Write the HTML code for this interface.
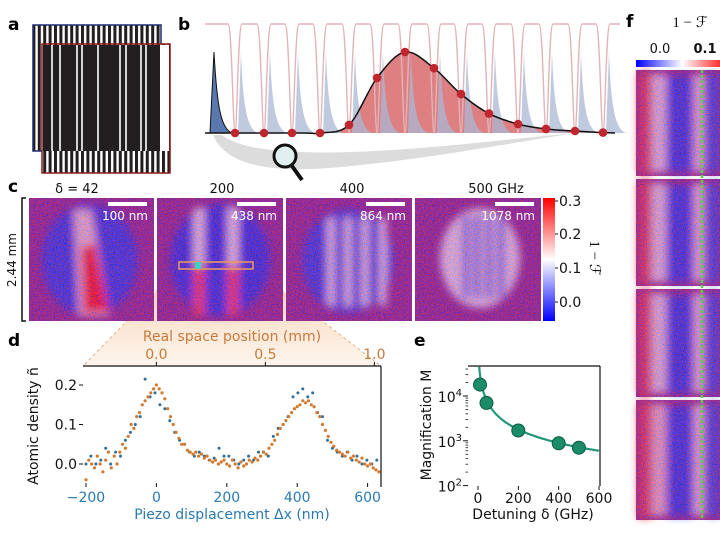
<!DOCTYPE html>
<html><head><meta charset="utf-8"><style>
html,body{margin:0;padding:0;background:#fff;}
svg{display:block;font-family:"DejaVu Sans","Liberation Sans",sans-serif;}
.pl{font-weight:bold;font-size:17px;}
</style></head><body>
<svg id="fig" width="720" height="540" viewBox="0 0 720 540" xmlns="http://www.w3.org/2000/svg">
<defs>
<filter id="noise" x="0" y="0" width="100%" height="100%">
<feTurbulence type="fractalNoise" baseFrequency="0.9" numOctaves="2" seed="4" result="t"/>
<feColorMatrix in="t" type="matrix" values="4 0 0 0 -1.5  0 0 0 0 0.05  -4 0 0 0 2.5  0 0 0 0 0.42"/>
</filter>
<filter id="blur4"><feGaussianBlur stdDeviation="4"/></filter>
<linearGradient id="cbarV" x1="0" y1="1" x2="0" y2="0">
<stop offset="0" stop-color="#0000ff"/><stop offset="0.5" stop-color="#ffffff"/><stop offset="1" stop-color="#ff0000"/></linearGradient>
<linearGradient id="cbarH" x1="0" y1="0" x2="1" y2="0">
<stop offset="0" stop-color="#0000ff"/><stop offset="0.55" stop-color="#ffffff"/><stop offset="1" stop-color="#ff3030"/></linearGradient>
<linearGradient id="fan" x1="0" y1="0" x2="0" y2="1">
<stop offset="0" stop-color="#f4b27a" stop-opacity="0.7"/><stop offset="1" stop-color="#fbe3cf" stop-opacity="0.4"/></linearGradient>
<pattern id="stripes" width="5.4" height="10" patternUnits="userSpaceOnUse">
<rect width="5.4" height="10" fill="#fff"/><rect width="3" height="10" fill="#231f20"/></pattern>
</defs>

<text class="pl" x="8" y="30">a</text>
<text class="pl" x="178" y="30">b</text>
<text class="pl" x="8" y="192">c</text>
<text class="pl" x="8" y="346">d</text>
<text class="pl" x="414" y="346">e</text>
<text class="pl" x="626" y="27">f</text>

<g>
<rect x="33" y="25" width="128" height="126" fill="url(#stripes)" stroke="#1c2a6e" stroke-width="1.5"/>
<rect x="42" y="44" width="128" height="129" fill="url(#stripes)" stroke="#8c1a1a" stroke-width="1.5"/>
<rect x="43" y="45" width="117" height="106" fill="#231f20"/>
<g stroke="#fff" stroke-width="1.6">
<line x1="52" y1="45" x2="52" y2="151"/><line x1="60" y1="45" x2="60" y2="151"/><line x1="77" y1="45" x2="77" y2="151"/><line x1="82" y1="45" x2="82" y2="151"/><line x1="98" y1="45" x2="98" y2="151"/><line x1="120" y1="45" x2="120" y2="151"/><line x1="126" y1="45" x2="126" y2="151"/><line x1="141" y1="45" x2="141" y2="151"/><line x1="146" y1="45" x2="146" y2="151"/>
</g>
<rect x="160" y="45" width="9" height="106" fill="#fff"/>
</g>

<g id="panelB"></g>

<polygon points="179,268 253,268 381,366 83,366" fill="url(#fan)"/>
<line x1="179" y1="268" x2="83" y2="366" stroke="#e0a070" stroke-dasharray="3,3" stroke-width="0.8"/>
<line x1="253" y1="268" x2="381" y2="366" stroke="#e0a070" stroke-dasharray="3,3" stroke-width="0.8"/>

<g id="panelC"></g>
<g id="panelD"></g>
<g id="panelE"></g>
<g id="panelF"></g>
</svg>
<script>
// ---------- Panel d data ----------
const dOrangeX = [-200,-192,-184,-176,-168,-160,-152,-144,-136,-128,-120,-112,-104,-96,-88,-80,-72,-64,-56,-48,-40,-32,-24,-16,-8,0,8,16,24,32,40,48,56,64,72,80,88,96,104,112,120,128,136,144,152,160,168,176,184,192,200,208,216,224,232,240,248,256,264,272,280,288,296,304,312,320,328,336,344,352,360,368,376,384,392,400,408,416,424,432,440,448,456,464,472,480,488,496,504,512,520,528,536,544,552,560,568,576,584,592,600,608,616,624,632];
const dOrangeY = [-0.04,0.01,0.0,-0.01,0.02,0.0,-0.02,0.01,0.03,-0.01,0.02,0.0,0.03,0.05,0.04,0.07,0.1,0.09,0.12,0.13,0.15,0.16,0.17,0.18,0.19,0.2,0.19,0.18,0.165,0.14,0.12,0.1,0.08,0.065,0.05,0.05,0.035,0.03,0.025,0.03,0.02,0.025,0.015,0.02,0.01,0.005,0.01,0.0,0.005,0.01,0.0,-0.005,0.01,0.0,-0.01,0.005,-0.005,0.0,0.01,0.005,0.015,0.01,0.02,0.03,0.025,0.04,0.05,0.06,0.075,0.09,0.1,0.11,0.12,0.13,0.14,0.145,0.15,0.16,0.155,0.16,0.15,0.145,0.13,0.12,0.1,0.085,0.07,0.055,0.045,0.035,0.03,0.025,0.02,0.03,0.015,0.02,0.01,0.005,0.015,0.0,-0.005,0.0,-0.01,-0.015,-0.02];
const dBlueX = [-200,-186,-172,-158,-144,-130,-116,-102,-88,-74,-60,-46,-32,-18,-4,10,24,38,52,66,80,94,108,122,136,150,164,178,192,206,220,234,248,262,276,290,304,318,332,346,360,374,388,402,416,430,444,458,472,486,500,514,528,542,556,570,584,598,612,626];
const dBlueY = [0.0,0.02,0.0,0.01,0.04,0.0,0.03,0.02,0.06,0.08,0.1,0.12,0.215,0.17,0.18,0.15,0.14,0.11,0.08,0.06,0.05,0.03,0.02,0.03,0.02,0.01,0.015,0.04,0.02,0.02,0.01,0.0,0.01,0.02,0.01,0.03,0.03,0.02,0.07,0.09,0.1,0.12,0.17,0.18,0.19,0.17,0.18,0.13,0.12,0.06,0.04,0.03,0.02,0.03,0.01,0.02,0.0,0.01,0.0,0.01];
const dXTicks = [-200,0,200,400,600];
const dXTickLabels = ["\u2212200","0","200","400","600"];
const dYTicks = [0.0,0.1,0.2];
const dYTickLabels = ["0.0","0.1","0.2"];
const dTopTicks = [0.0,0.5,1.0];
const dTopTickLabels = ["0.0","0.5","1.0"];
// ---------- Panel e data ----------
const eDetuning = [10,42,200,400,500];
const eMagnification = [18000,7000,1700,880,700];
const eFitParams = [360000,2];
const eXTicks = [0,200,400,600];
const eXTickLabels = ["0","200","400","600"];
const eYTicksExp = [2,3,4];
// ---------- Panel b data ----------
const bCombX = [235,264,292,320,349,377,405,434,461,489,518,546,575,603];
const bDotY = [0,0,0,0,0.1,0.68,1.0,0.8,0.48,0.24,0.11,0.05,0.025,0.005];

const NS="http://www.w3.org/2000/svg";
function mk(tag, attrs, parent){const e=document.createElementNS(NS,tag);for(const k in attrs)e.setAttribute(k,attrs[k]);parent.appendChild(e);return e;}
function tx(str, attrs, parent){const e=mk('text',attrs,parent);e.textContent=str;return e;}

(function(){
 const g=document.getElementById('panelB');
 const base=133, top=52, amp=base-top;
 const sw=mk('path',{d:"M213,135 C230,175 300,172 360,165 C430,158 500,145 575,133 C500,140 420,150 350,152 C290,154 240,150 222,135 Z",fill:"#dcdcdc"},g);
 
 
 function hy(i){return base-bDotY[i]*amp;}
 let pts=[[205,base],[300,base]];
 for(let i=3;i<bCombX.length;i++)pts.push([bCombX[i],hy(i)]);
 pts.push([615,base]);
 let p="M"+pts[0][0]+","+pts[0][1];
 for(let i=0;i<pts.length-1;i++){const p0=pts[Math.max(0,i-1)],p1=pts[i],p2=pts[i+1],p3=pts[Math.min(pts.length-1,i+2)];
  p+=" C"+(p1[0]+(p2[0]-p0[0])/6).toFixed(1)+","+(p1[1]+(p2[1]-p0[1])/6).toFixed(1)+" "+(p2[0]-(p3[0]-p1[0])/6).toFixed(1)+","+(p2[1]-(p3[1]-p1[1])/6).toFixed(1)+" "+p2[0]+","+p2[1];}
 const hf=mk('path',{d:p+" L615,"+base+" L205,"+base+" Z",fill:"#d8686c","fill-opacity":"0.85"},g);
 
 
 for(let i=0;i<bCombX.length;i++){
  const x0=bCombX[i]+3;
  if(x0>610)continue;
  const pk=mk('path',{d:`M${x0},${base} L${x0+3},${top} C${x0+5},${top+55} ${x0+9},${base-4} ${x0+20},${base} Z`,fill:"#a9b8d4","fill-opacity":"0.75"},g);
  
  
 }
 const fp=mk('path',{d:`M210,${base} L214,${top} C217,${top+55} 221,${base-4} 232,${base} Z`,fill:"#5a78b0",stroke:"#111","stroke-width":"1"},g);
 
 
 let c="M205,24";
 for(let i=0;i<bCombX.length;i++){const x=bCombX[i];c+=` L${x-7},24 C${x-3},24 ${x-2},${base} ${x},${base} C${x+2},${base} ${x+3},24 ${x+7},24`;}
 c+=" L620,24";
 const cm=mk('path',{d:c,fill:"none",stroke:"#e2b4b8","stroke-width":"1.4"},g);
 
 
 const cv=mk('path',{d:p,fill:"none",stroke:"#111","stroke-width":"1.5"},g);
 
 
 for(let i=0;i<bCombX.length;i++){
  const d=mk('circle',{cx:bCombX[i],cy:hy(i).toFixed(1),r:4.3,fill:"#c0262e"},g);
  
  
 }
 mk('line',{x1:292,y1:166,x2:302,y2:180,stroke:"#111","stroke-width":"4"},g);
 const mg=mk('circle',{cx:285,cy:156,r:11,fill:"#dff0ee",stroke:"#111","stroke-width":"3"},g);
 
 
})();

(function(){
 const g=document.getElementById('panelC');
 const y0=198,h=123;
 const imgs=[[29,125],[157,126],[286,126],[415,126]];
 const titles=["\u03b4 = 42","200","400","500 GHz"];
 const titleX=[77,222,352,496];
 const scaleTxt=["100 nm","438 nm","864 nm","1078 nm"];
 imgs.forEach((im,k)=>{
  const [x,w]=im;const cx=x+w/2;
  const gg=mk('g',{},g);
  
  
  mk('rect',{x:x,y:y0,width:w,height:h,fill:"#8a2088"},gg);
  const inner=mk('g',{filter:"url(#blur4)"},gg);
  if(k===0){
   mk('ellipse',{cx:cx-2,cy:y0+62,rx:48,ry:56,fill:"#2030e8"},inner);
   mk('path',{d:`M${x+45},${y0+12} L${x+62},${y0+12} L${x+80},${y0+118} L${x+50},${y0+118} Z`,fill:"#f4d0d8"},inner);
   mk('path',{d:`M${x+52},${y0+50} L${x+66},${y0+45} L${x+80},${y0+115} L${x+54},${y0+115} Z`,fill:"#ff1010"},inner);
  }else if(k===1){
   mk('ellipse',{cx:cx,cy:y0+62,rx:50,ry:56,fill:"#1c2ce8"},inner);
   [199,233].forEach(sx=>{mk('rect',{x:sx-5,y:y0+10,width:10,height:58,fill:"#f8eef4"},inner);mk('rect',{x:sx-5,y:y0+68,width:10,height:50,fill:"#ff3838"},inner);});
  }else if(k===2){
   mk('ellipse',{cx:348,cy:y0+63,rx:46,ry:52,fill:"#2838e8"},inner);
   [331,348,365,383].forEach(sx=>mk('rect',{x:sx-3.5,y:y0+20,width:7,height:88,fill:"#f0ecfa"},inner));
  }else{
   mk('ellipse',{cx:480,cy:y0+60,rx:40,ry:50,fill:"#ece4f2"},inner);
   [466,477,489,501].forEach(sx=>mk('rect',{x:sx-3,y:y0+18,width:6,height:82,fill:"#3848e8"},inner));
  }
  mk('rect',{x:x,y:y0,width:w,height:h,filter:"url(#noise)"},gg);
  mk('rect',{x:x+w-46,y:y0+4,width:39,height:4,fill:"#fff"},gg);
  tx(scaleTxt[k],{x:x+w-6,y:y0+22,"text-anchor":"end","font-size":"12",fill:"#fff"},gg);
  const t=tx(titles[k],{x:titleX[k],y:193,"text-anchor":"middle","font-size":"13",fill:"#111"},g);
  
  
 });
 const rb=mk('rect',{x:179,y:262,width:74,height:7,fill:"none",stroke:"#e89a60","stroke-width":"1.5"},g);
 
 
 mk('rect',{x:195,y:262,width:6,height:7,fill:"#40d0c0"},g);
 mk('path',{d:"M26,198 L22,198 L22,321 L26,321",fill:"none",stroke:"#111","stroke-width":"1.5"},g);
 const sl=tx("2.44 mm",{x:0,y:0,"text-anchor":"middle","font-size":"12",transform:"translate(16,260) rotate(-90)",fill:"#111"},g);
 
 
 const cb=mk('rect',{x:543,y:198,width:12,height:123,fill:"url(#cbarV)"},g);
 
 
 [["0.3",201],["0.2",234],["0.1",268],["0.0",302]].forEach(t=>{
  mk('line',{x1:555,y1:t[1],x2:558,y2:t[1],stroke:"#111"},g);
  tx(t[0],{x:559,y:t[1]+5,"font-size":"14",fill:"#111"},g);
 });
 const cl=tx("1 \u2212 \u2131",{x:0,y:0,"text-anchor":"middle","font-size":"15","font-family":"Liberation Serif, serif",transform:"translate(590,258) rotate(90)",fill:"#111"},g);
 
 
})();

(function(){
 const g=document.getElementById('panelD');
 const xs=v=>86+(v+200)*0.352;
 const ys=v=>464-v*395;
 const xr=mm=>xs(0)+mm*218;
 mk('line',{x1:83,y1:366,x2:381,y2:366,stroke:"#111","stroke-width":"1.2"},g);
 mk('line',{x1:381,y1:366,x2:381,y2:487,stroke:"#111","stroke-width":"1.2"},g);
 dYTicks.forEach((v,i)=>{
  mk('line',{x1:79,y1:ys(v),x2:83,y2:ys(v),stroke:"#111"},g);
  const t=tx(dYTickLabels[i],{x:77,y:ys(v)+5,"text-anchor":"end","font-size":"14",fill:"#111"},g);
  
  
 });
 dXTicks.forEach((v,i)=>{
  mk('line',{x1:xs(v),y1:483,x2:xs(v),y2:487,stroke:"#111"},g);
  const t=tx(dXTickLabels[i],{x:xs(v),y:502,"text-anchor":"middle","font-size":"14",fill:"#2a7ab0"},g);
  
  
 });
 dTopTicks.forEach((v,i)=>{
  mk('line',{x1:xr(v),y1:362,x2:xr(v),y2:366,stroke:"#111"},g);
  const t=tx(dTopTickLabels[i],{x:xr(v),y:359,"text-anchor":"middle","font-size":"14",fill:"#c87a3a"},g);
  
  
 });
 const tt=tx("Real space position (mm)",{x:232,y:341,"text-anchor":"middle","font-size":"14",fill:"#c87a3a"},g);
 
 
 const xt=tx("Piezo displacement \u0394x (nm)",{x:232,y:519,"text-anchor":"middle","font-size":"14",fill:"#2a7ab0"},g);
 
 
 const yt=tx("Atomic density \u00f1",{x:0,y:0,"text-anchor":"middle","font-size":"14",transform:"translate(38,426) rotate(-90)",fill:"#111"},g);
 
 
 dBlueX.forEach((v,i)=>{
  const c=mk('circle',{cx:xs(v).toFixed(1),cy:ys(dBlueY[i]).toFixed(1),r:1.5,fill:"#2d6e96"},g);
  
  
 });
 dOrangeX.forEach((v,i)=>{
  const c=mk('circle',{cx:xs(v).toFixed(1),cy:ys(dOrangeY[i]).toFixed(1),r:1.6,fill:"#d27a30"},g);
  
  
 });
})();

(function(){
 const g=document.getElementById('panelE');
 const xe=v=>478+v*0.2017;
 const ye=m=>396-(Math.log10(m)-4)*44.8;
 mk('line',{x1:468,y1:366,x2:600,y2:366,stroke:"#111","stroke-width":"1.2"},g);
 mk('line',{x1:600,y1:366,x2:600,y2:486,stroke:"#111","stroke-width":"1.2"},g);
 eYTicksExp.forEach(e=>{
  const y=ye(Math.pow(10,e));
  mk('line',{x1:463,y1:y,x2:468,y2:y,stroke:"#111"},g);
  const t=mk('text',{x:462,y:y+6,"text-anchor":"end","font-size":"14",fill:"#111"},g);
  
  
  t.innerHTML='10<tspan dy="-6" font-size="10">'+e+'</tspan>';
  for(let m=2;m<10;m++){const yy=ye(m*Math.pow(10,e));if(yy>366&&yy<486)mk('line',{x1:465.5,y1:yy,x2:468,y2:yy,stroke:"#111","stroke-width":"0.8"},g);}
 });
 eXTicks.forEach((v,i)=>{
  mk('line',{x1:xe(v),y1:486,x2:xe(v),y2:490,stroke:"#111"},g);
  const t=tx(eXTickLabels[i],{x:xe(v),y:503,"text-anchor":"middle","font-size":"14",fill:"#111"},g);
  
  
 });
 const xt=tx("Detuning \u03b4 (GHz)",{x:533,y:519,"text-anchor":"middle","font-size":"14",fill:"#111"},g);
 
 
 const yt=tx("Magnification M",{x:0,y:0,"text-anchor":"middle","font-size":"14",transform:"translate(431,425) rotate(-90)",fill:"#111"},g);
 
 
 let d="";
 for(let v=0;v<=600;v+=2){const m=eFitParams[0]/(v+eFitParams[1]);let y=ye(m);if(y<366)continue;d+=(d?" L":"M")+xe(v).toFixed(1)+","+y.toFixed(1);}
 const fl=mk('path',{d:d,fill:"none",stroke:"#23977a","stroke-width":"2.2"},g);
 
 
 eDetuning.forEach((v,i)=>{
  const c=mk('circle',{cx:xe(v).toFixed(1),cy:ye(eMagnification[i]).toFixed(1),r:6.5,fill:"#1a8c68",stroke:"#0d5a43","stroke-width":"1"},g);
  
  
 });
})();

(function(){
 const g=document.getElementById('panelF');
 const cb=mk('rect',{x:636,y:60,width:84,height:7,fill:"url(#cbarH)"},g);
 
 
 tx("0.0",{x:660,y:53,"text-anchor":"middle","font-size":"13",fill:"#111"},g);
 tx("0.1",{x:705,y:53,"text-anchor":"middle","font-size":"13","font-weight":"bold",fill:"#111"},g);
 tx("1 \u2212 \u2131",{x:690,y:27,"text-anchor":"middle","font-size":"15","font-family":"Liberation Serif, serif",fill:"#111"},g);
 const rows=[[70,106],[179,107],[289,108],[400,120]];
 rows.forEach((r,k)=>{
  const [y,h]=r;
  const gg=mk('g',{},g);
  
  
  mk('rect',{x:636,y:y,width:84,height:h,fill:"#902080"},gg);
  const inner=mk('g',{filter:"url(#blur4)"},gg);
  mk('rect',{x:638,y:y+2,width:14,height:h-4,fill:"#e03050"},inner);
  mk('rect',{x:652,y:y+4,width:14,height:h-8,fill:k===3?"#f4c0c8":"#ecd8e8"},inner);
  mk('rect',{x:666,y:y+6,width:30,height:h-10,fill:"#2030e8"},inner);
  mk('rect',{x:694,y:y+4,width:10,height:h-8,fill:"#f4d0dc"},inner);
  mk('rect',{x:704,y:y+4,width:16,height:h-8,fill:"#3040e0"},inner);
  mk('rect',{x:636,y:y,width:84,height:h,filter:"url(#noise)"},gg);
 });
 const gl=mk('line',{x1:702,y1:70,x2:702,y2:520,stroke:"#5ad04a","stroke-width":"2.5","stroke-dasharray":"3,2"},g);
 
 
})();
</script>
</body></html>
